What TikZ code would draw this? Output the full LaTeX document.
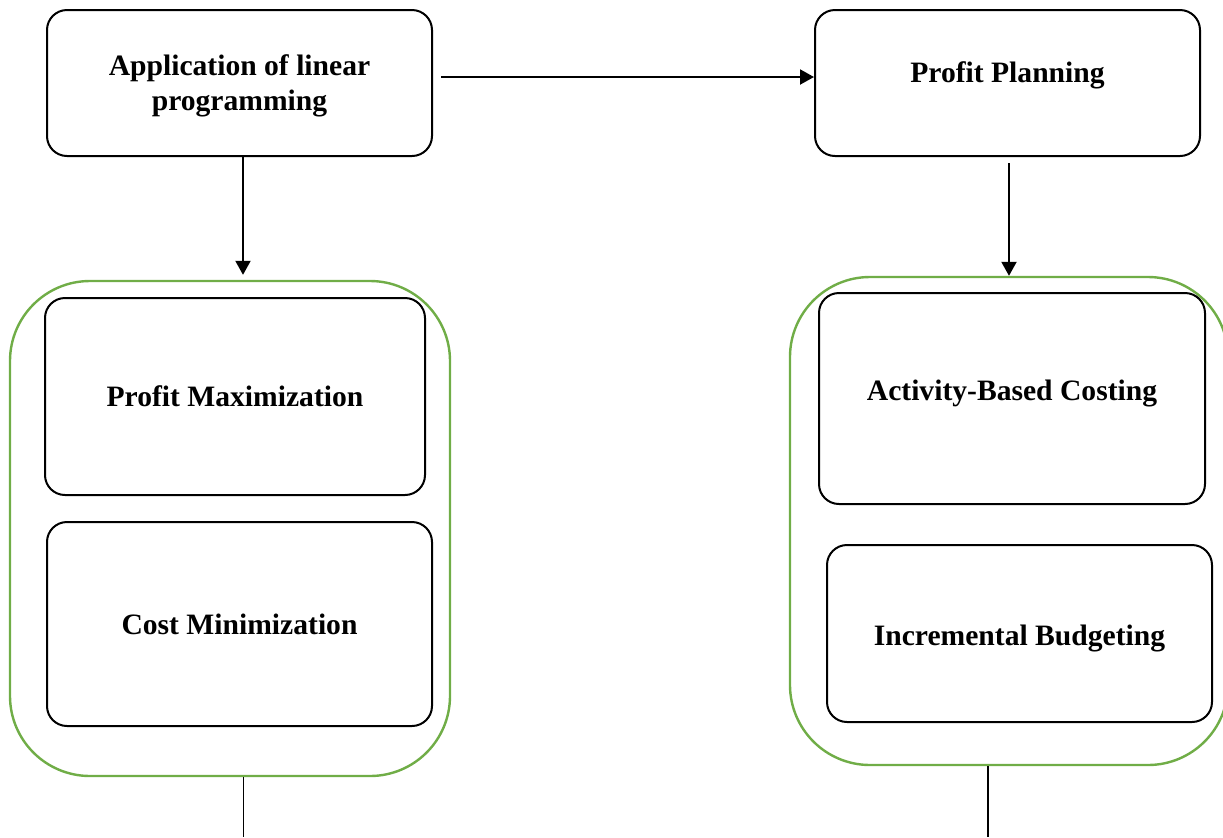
\documentclass[tikz,border=0pt]{standalone}
\usepackage{fontspec}
\setmainfont{Liberation Serif}
\usetikzlibrary{positioning,arrows.meta,calc}
\definecolor{groupGreen}{HTML}{70AD47}

\tikzset{
  box/.style={draw, line width=1pt, rounded corners=10pt, align=center,
    font=\fontsize{14.8}{17.5}\selectfont\bfseries},
  group/.style={draw=groupGreen, line width=1.2pt, rounded corners=40pt},
  arr/.style={line width=1pt, -{Triangle[length=7pt,width=7.5pt]}}
}

\begin{document}
\begin{tikzpicture}[x=0.5pt, y=-0.5pt]
        \useasboundingbox (0,0) rectangle (1223,837);
        % groups
        \node[group, minimum width=220pt, minimum height=247.5pt] (grpL) at (230,528.5) {};
        \node[group, minimum width=219pt, minimum height=244pt] (grpR) at (1009,521) {};
        % top row
        \node[box, minimum width=192.5pt, minimum height=73pt, text depth=-2pt] (linprog) at (239.5,83) {Application of linear\\programming};
        \node[box, minimum width=192.5pt, minimum height=73pt, text depth=11pt] (profplan) at (1007.5,83) {Profit Planning};
        % left column
        \node[box, minimum width=190pt, minimum height=98.5pt] (profmax) at (235,396.5) {Profit Maximization};
        \node[box, minimum width=192.5pt, minimum height=102pt] (costmin) at (239.5,624) {Cost Minimization};
        % right column
        \node[box, minimum width=193pt, minimum height=105.5pt, text depth=8pt] (abc) at (1012,398.5) {Activity-Based Costing};
        \node[box, minimum width=192.5pt, minimum height=88.5pt, text height=15pt] (incbud) at (1019.5,633.5) {Incremental Budgeting};
        % loose ends at the bottom
        \coordinate (endL) at (243.5,837);
        \coordinate (endR) at (988,837);
        % connectors
        \draw[arr] ([xshift=4pt,yshift=3pt]linprog.east) -- ([yshift=3pt]profplan.west);
        \draw[arr] ([xshift=1.75pt]linprog.south) -- ([xshift=6.5pt,yshift=2.5pt]grpL.north);
        \draw[arr] ([xshift=0.75pt,yshift=-3pt]profplan.south) -- (grpR.north);
        \draw[line width=0.8pt] (grpL.south -| endL) -- (endL);
        \draw[line width=0.8pt] (grpR.south -| endR) -- (endR);
      \end{tikzpicture}
\end{document}
